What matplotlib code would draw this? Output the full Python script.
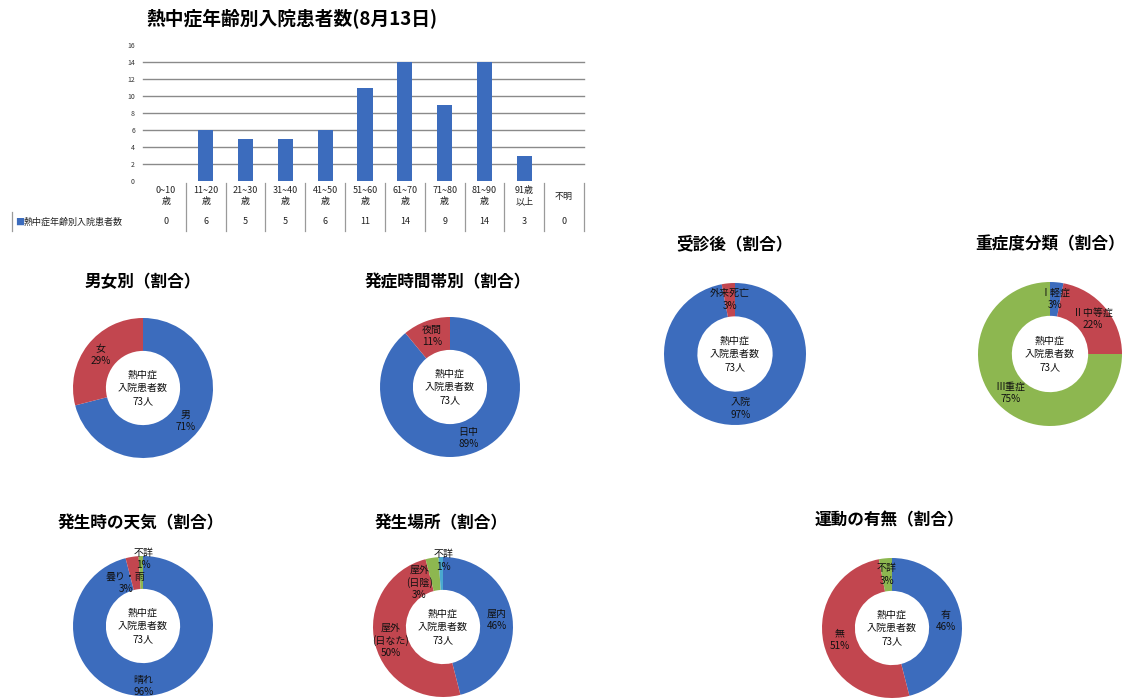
import matplotlib
matplotlib.use('Agg')
import matplotlib.pyplot as plt
import matplotlib.transforms as mtransforms
import numpy as np

plt.rcParams['font.family'] = ['Noto Sans CJK JP', 'DejaVu Sans']

W, H = 1132, 699

# 年齢別入院患者数 (8月13日)
age_groups = ['0~10\n歳', '11~20\n歳', '21~30\n歳', '31~40\n歳', '41~50\n歳',
              '51~60\n歳', '61~70\n歳', '71~80\n歳', '81~90\n歳', '91歳\n以上', '不明']
patients = [0, 6, 5, 5, 6, 11, 14, 9, 14, 3, 0]
series_name = '熱中症年齢別入院患者数'

# 割合 (%)
sex_labels = ['男', '女']
sex_pct = [71, 29]
time_labels = ['日中', '夜間']
time_pct = [89, 11]
after_labels = ['入院', '外来死亡']
after_pct = [97, 3]
severity_labels = ['Ⅰ軽症', 'Ⅱ中等症', 'Ⅲ重症']
severity_pct = [3, 22, 75]
weather_labels = ['晴れ', '曇り・雨', '不詳']
weather_pct = [96, 3, 1]
place_labels = ['屋内', '屋外\n(日なた)', '屋外\n(日陰)', '不詳']
place_pct = [46, 50, 3, 1]
exercise_labels = ['有', '無', '不詳']
exercise_pct = [46, 51, 3]

center_text = '熱中症\n入院患者数\n73人'

BLUE = '#3c6cbd'
RED = '#c2464f'
GREEN = '#8db750'
CYAN = '#4aa9cf'

fig = plt.figure(figsize=(W / 100, H / 100), dpi=100)
fig.patch.set_facecolor('white')


def px_axes(x0, y0, x1, y1):
    return fig.add_axes([x0 / W, 1 - y1 / H, (x1 - x0) / W, (y1 - y0) / H])


def px_text(x, y, s, **kw):
    return fig.text(x / W, 1 - y / H, s, **kw)


# ---- bar chart ----
px_text(292, 19, '熱中症年齢別入院患者数(8月13日)', ha='center', va='center',
        fontsize=13.5, fontweight='bold')
ax = px_axes(146, 45, 584, 181)
x = np.arange(len(patients))
ax.bar(x, patients, width=0.38, color=BLUE, zorder=3)
ax.set_xlim(-0.5, len(patients) - 0.5)
ax.set_ylim(0, 16)
ax.set_yticks(np.arange(0, 17, 2))
ax.tick_params(axis='y', labelsize=5, length=0, pad=8, colors='#333333')
ax.set_xticks([])
for v in range(2, 16, 2):
    ax.axhline(v, xmin=-0.007, color='#8a8a8a', lw=1.0, zorder=1, clip_on=False)
for s in ax.spines.values():
    s.set_visible(False)

trans = mtransforms.blended_transform_factory(ax.transData, fig.transFigure)
for i, (lab, n) in enumerate(zip(age_groups, patients)):
    ax.text(i, 1 - 196 / H, lab, transform=trans, ha='center', va='center',
            fontsize=6.5, linespacing=1.25, color='#222222')
    ax.text(i, 1 - 222 / H, str(n), transform=trans, ha='center', va='center',
            fontsize=6.5, color='#222222')
    ax.plot([i + 0.5, i + 0.5], [1 - 183 / H, 1 - 231 / H], transform=trans,
            color='#9a9a9a', lw=0.9, clip_on=False)
fig.add_artist(plt.Line2D([12 / W, 12 / W], [1 - 212 / H, 1 - 231 / H],
                          color='#9a9a9a', lw=0.9))
px_text(15, 222, '■', ha='left', va='center', fontsize=6.5, color=BLUE)
px_text(24, 222, series_name, ha='left', va='center', fontsize=6.5, color='#222222')


# ---- donuts ----
def donut(cx, cy, r, title, tx, ty, labels, pct, colors, label_pos=None):
    px_text(tx, ty, title, ha='center', va='center', fontsize=12, fontweight='bold')
    a = px_axes(cx - r, cy - r, cx + r, cy + r)
    a.pie(pct, colors=colors, startangle=90, counterclock=False, radius=1,
          wedgeprops=dict(width=0.47, edgecolor='none'))
    a.set_xlim(-1, 1)
    a.set_ylim(-1, 1)
    a.text(0, 0, center_text, ha='center', va='center', fontsize=7.2,
           linespacing=1.45, color='#111111')
    total = float(sum(pct))
    cum = 0.0
    label_pos = label_pos or {}
    for i, (lab, p) in enumerate(zip(labels, pct)):
        mid = 360 * (cum + p / 2) / total
        cum += p
        rr, shift = label_pos.get(i, (0.77, 0))
        th = np.radians(mid + shift)
        a.text(rr * np.sin(th), rr * np.cos(th), '%s\n%d%%' % (lab, p),
               ha='center', va='center', fontsize=7.2, linespacing=1.3,
               color='#111111')


donut(143, 388, 70, '男女別（割合）', 143, 282, sex_labels, sex_pct, [BLUE, RED])
donut(450, 387, 70, '発症時間帯別（割合）', 448, 282, time_labels, time_pct, [BLUE, RED])
donut(735, 354, 71, '受診後（割合）', 735, 244, after_labels, after_pct, [BLUE, RED])
donut(1050, 354, 72, '重症度分類（割合）', 1050, 244, severity_labels, severity_pct,
      [BLUE, RED, GREEN])
donut(143, 626, 70, '発生時の天気（割合）', 141, 523, weather_labels, weather_pct,
      [BLUE, RED, GREEN],
      label_pos={0: (0.86, 7), 1: (0.66, -13), 2: (0.96, 2)})
donut(443, 627, 70, '発生場所（割合）', 441, 523, place_labels, place_pct,
      [BLUE, RED, GREEN, CYAN], label_pos={2: (0.72, -19), 3: (0.95, 2)})
donut(892, 628, 70, '運動の有無（割合）', 889, 520, exercise_labels, exercise_pct,
      [BLUE, RED, GREEN])

fig.savefig('out.png', dpi=100, facecolor='white')
